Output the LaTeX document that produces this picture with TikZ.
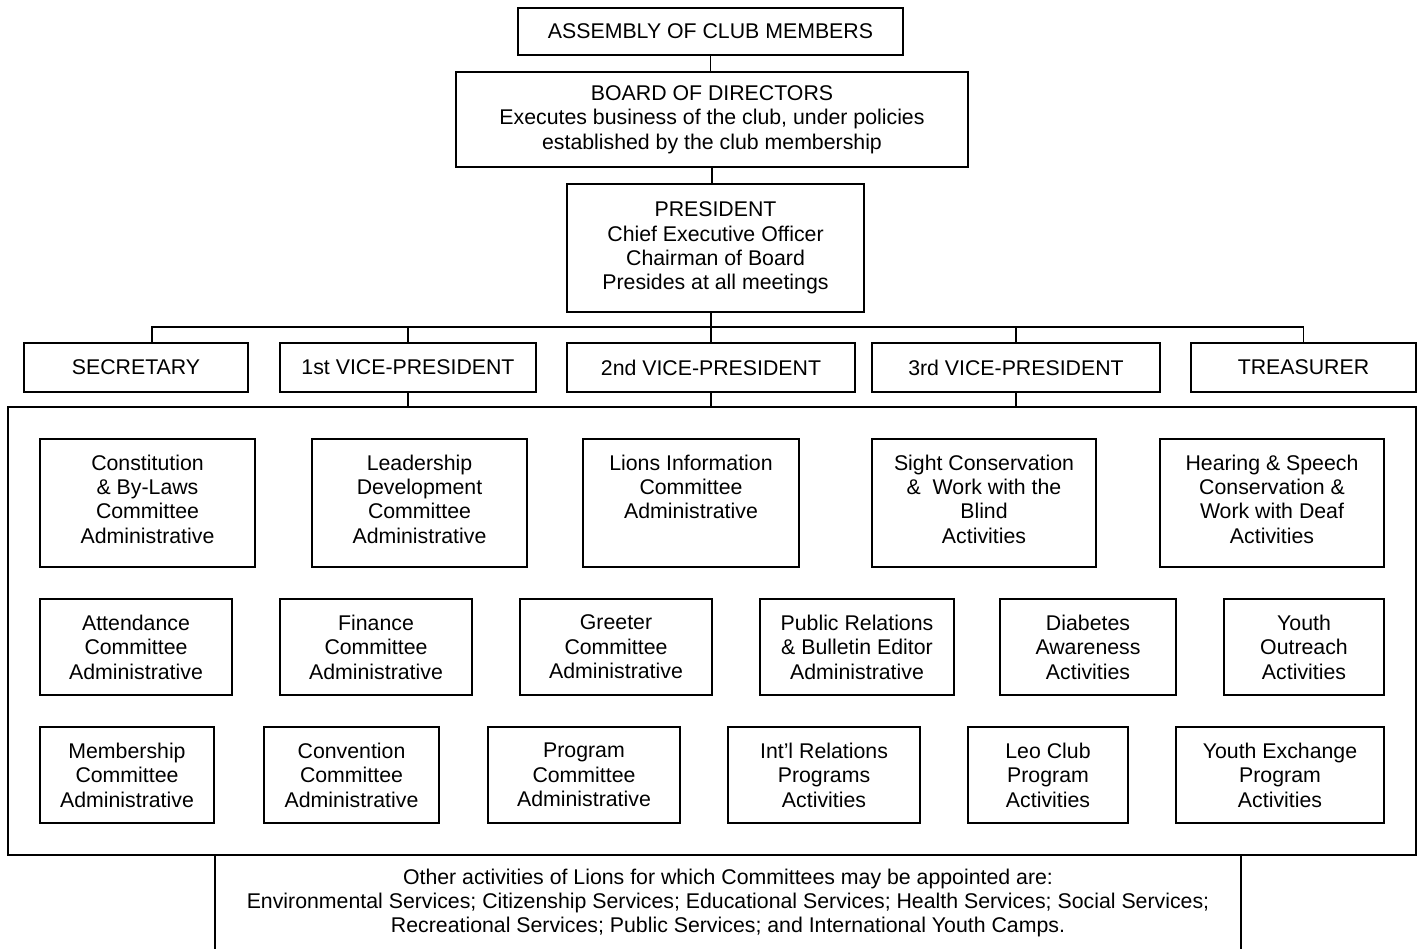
\documentclass[tikz,border=0pt]{standalone}
\usepackage{fontspec}
\setmainfont{Liberation Sans}
\begin{document}
\begin{tikzpicture}[x=1pt,y=-1pt,
  box/.style={draw,line width=1.9pt,align=center,inner sep=0pt,font=\fontsize{21.3}{24.4}\selectfont},
  toprow/.style={box,minimum height=128pt,text depth=8pt},
  wire/.style={line width=1.9pt}]
\useasboundingbox (0,0) rectangle (1421,949);
% top chain
\node[box,minimum width=385pt,minimum height=47pt] (assembly) at (710.5,31.5) {ASSEMBLY OF CLUB MEMBERS};
\node[box,minimum width=512pt,minimum height=95pt] (board) at (712,119.5) {BOARD OF DIRECTORS\\Executes business of the club, under policies\\established by the club membership};
\node[box,minimum width=297pt,minimum height=128pt] (president) at (715.5,248) {PRESIDENT\\Chief Executive Officer\\Chairman of Board\\Presides at all meetings};
% officers
\node[box,minimum width=224pt,minimum height=49pt] (secretary) at (136,367.5) {SECRETARY};
\node[box,minimum width=256pt,minimum height=49pt] (vp1) at (408,367.5) {1st VICE-PRESIDENT};
\node[box,minimum width=288pt,minimum height=49pt] (vp2) at (711,367.5) {2nd VICE-PRESIDENT};
\node[box,minimum width=288pt,minimum height=49pt] (vp3) at (1016,367.5) {3rd VICE-PRESIDENT};
\node[box,minimum width=225pt,minimum height=49pt] (treasurer) at (1303.5,367.5) {TREASURER};
% big container
\node[box,minimum width=1408pt,minimum height=448pt] (big) at (712,631) {};
% row 1
\node[toprow,minimum width=215pt] (cons) at (147.5,503) {Constitution\\\& By-Laws\\Committee\\Administrative};
\node[toprow,minimum width=215pt] (lead) at (419.5,503) {Leadership\\Development\\Committee\\Administrative};
\node[toprow,minimum width=216pt] (info) at (691,503) {Lions Information\\Committee\\Administrative\\\mbox{}};
\node[toprow,minimum width=224pt] (sight) at (984,503) {Sight Conservation\\\&\ \ Work with the\\Blind\\Activities};
\node[toprow,minimum width=224pt] (hearing) at (1272,503) {Hearing \& Speech\\Conservation \&\\Work with Deaf\\Activities};
% row 2
\node[box,minimum width=192pt,minimum height=96pt] (att) at (136,647) {Attendance\\Committee\\Administrative};
\node[box,minimum width=192pt,minimum height=96pt] (fin) at (376,647) {Finance\\Committee\\Administrative};
\node[box,minimum width=192pt,minimum height=96pt] (greet) at (616,647) {Greeter\\Committee\\Administrative};
\node[box,minimum width=194pt,minimum height=96pt] (pr) at (857,647) {Public Relations\\\& Bulletin Editor\\Administrative};
\node[box,minimum width=176pt,minimum height=96pt] (diab) at (1088,647) {Diabetes\\Awareness\\Activities};
\node[box,minimum width=160pt,minimum height=96pt] (yout) at (1304,647) {Youth\\Outreach\\Activities};
% row 3
\node[box,minimum width=174pt,minimum height=96pt] (memb) at (127,775) {Membership\\Committee\\Administrative};
\node[box,minimum width=175pt,minimum height=96pt] (conv) at (351.5,775) {Convention\\Committee\\Administrative};
\node[box,minimum width=192pt,minimum height=96pt] (prog) at (584,775) {Program\\Committee\\Administrative};
\node[box,minimum width=192pt,minimum height=96pt] (intl) at (824,775) {Int'l Relations\\Programs\\Activities};
\node[box,minimum width=160pt,minimum height=96pt] (leo) at (1048,775) {Leo Club\\Program\\Activities};
\node[box,minimum width=208pt,minimum height=96pt] (yex) at (1280,775) {Youth Exchange\\Program\\Activities};
% bottom open box
\node[box,draw=none,minimum width=1024pt,minimum height=96pt] (other) at (728,903) {Other activities of Lions for which Committees may be appointed are:\\Environmental Services; Citizenship Services; Educational Services; Health Services; Social Services;\\Recreational Services; Public Services; and International Youth Camps.};
\draw[wire] (other.north west) -- (other.south west);
\draw[wire] (other.north east) -- (other.south east);
% connectors
\coordinate (bus) at (712,327);
\coordinate (sectop) at (152,343);
\draw[wire] (assembly.south) -- (assembly.south |- board.north);
\draw[wire] (board.south) -- (board.south |- president.north);
\draw[wire] (vp2.north) -- (vp2.north |- president.south);
\draw[wire] (sectop) |- (bus) -| (treasurer.north);
\draw[wire] (vp1.north) -- (vp1.north |- bus);
\draw[wire] (vp3.north) -- (vp3.north |- bus);
\draw[wire] (vp1.south) -- (vp1.south |- big.north);
\draw[wire] (vp2.south) -- (vp2.south |- big.north);
\draw[wire] (vp3.south) -- (vp3.south |- big.north);
\end{tikzpicture}
\end{document}
